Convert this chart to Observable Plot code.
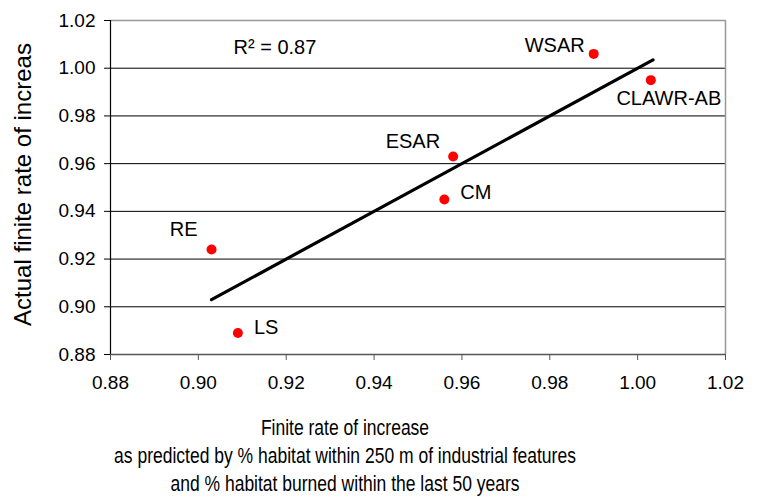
<!DOCTYPE html>
<html>
<head>
<meta charset="utf-8">
<script src="https://cdn.jsdelivr.net/npm/d3@7"></script>
<script src="https://cdn.jsdelivr.net/npm/@observablehq/plot@0.6"></script>
<style>
  html, body { margin: 0; padding: 0; background: white; }
  #chart { width: 758px; height: 498px; position: relative; overflow: hidden; font-family: "Liberation Sans", Arial, sans-serif; }
  #caption { width: 690px; text-align: center; font-size: 22px; line-height: 28px; color: #000; padding-top: 14px; }
  #caption div { transform: scaleX(0.795); transform-origin: 345px 50%; white-space: nowrap; }
</style>
</head>
<body>
<div id="chart"></div>
<script>
// ---- data ----
const names = ["WSAR", "CLAWR-AB", "ESAR", "CM", "RE", "LS"];
const predicted = [0.990, 1.003, 0.958, 0.956, 0.903, 0.909];
const actual = [1.006, 0.995, 0.963, 0.945, 0.924, 0.889];
const fitX = [0.903, 1.0035];
const fitY = [0.903, 1.0035];
const xTicks = [0.88, 0.90, 0.92, 0.94, 0.96, 0.98, 1.00, 1.02];
const yTicks = [0.88, 0.90, 0.92, 0.94, 0.96, 0.98, 1.00, 1.02];
const r2Label = "R² = 0.87";
const r2Pos = [0.908, 1.0087];
const yLabel = "Actual finite rate of increas";
const captionLines = [
  "Finite rate of increase",
  "as predicted by % habitat within 250 m of industrial features",
  "and % habitat burned within the last 50 years"
];

// ---- build ----
const points = names.map((n, i) => ({name: n, x: predicted[i], y: actual[i]}));
const fit = fitX.map((x, i) => ({x, y: fitY[i]}));
const innerY = yTicks.slice(1, -1);

const placement = {
  "WSAR":     {textAnchor: "end",    dx: -9,  dy: -8},
  "CLAWR-AB": {textAnchor: "middle", dx: 18,  dy: 18},
  "ESAR":     {textAnchor: "end",    dx: -13, dy: -15},
  "CM":       {textAnchor: "start",  dx: 16,  dy: -7},
  "RE":       {textAnchor: "end",    dx: -14, dy: -20},
  "LS":       {textAnchor: "start",  dx: 16,  dy: -5}
};

const labelMarks = points.map(p => Plot.text([p], {
  x: "x", y: "y", text: "name", fontSize: 20, fill: "black",
  ...placement[p.name]
}));

const fmt = d3.format(".2f");

const plot = Plot.plot({
  width: 758,
  height: 400,
  marginLeft: 110,
  marginRight: 33,
  marginTop: 20,
  marginBottom: 46,
  style: {fontFamily: "'Liberation Sans', Arial, sans-serif", fontSize: "19px", background: "white", color: "black"},
  x: {domain: [0.88, 1.02]},
  y: {domain: [0.88, 1.02]},
  marks: [
    Plot.ruleY(innerY, {stroke: "#000", strokeWidth: 1}),
    Plot.ruleY([yTicks[yTicks.length - 1]], {stroke: "#999", strokeWidth: 1.5}),
    Plot.ruleX([xTicks[xTicks.length - 1]], {stroke: "#999", strokeWidth: 1.5}),
    Plot.ruleY([yTicks[0]], {stroke: "#555", strokeWidth: 1.6}),
    Plot.ruleX([xTicks[0]], {stroke: "#000", strokeWidth: 1.2}),
    Plot.axisY({ticks: yTicks, tickFormat: fmt, tickSize: 6, tickPadding: 9, stroke: "#000", fontSize: 19, label: null}),
    Plot.axisX({ticks: xTicks, tickFormat: fmt, tickSize: 6, tickPadding: 15, stroke: "#555", fontSize: 19, label: null}),
    Plot.line(fit, {x: "x", y: "y", stroke: "#000", strokeWidth: 3.2}),
    Plot.dot(points, {x: "x", y: "y", r: 5, fill: "#ff0000", stroke: "none"}),
    ...labelMarks,
    Plot.text([r2Label], {x: () => r2Pos[0], y: () => r2Pos[1], text: d => d, textAnchor: "start", fontSize: 20}),
    Plot.text([yLabel], {frameAnchor: "left", textAnchor: "middle", rotate: -90, dx: -87, dy: -3, fontSize: 24, text: d => d})
  ]
});

const chart = document.getElementById("chart");
chart.appendChild(plot);
const cap = document.createElement("div");
cap.id = "caption";
captionLines.forEach(t => { const d = document.createElement("div"); d.textContent = t; cap.appendChild(d); });
chart.appendChild(cap);
</script>
</body>
</html>
